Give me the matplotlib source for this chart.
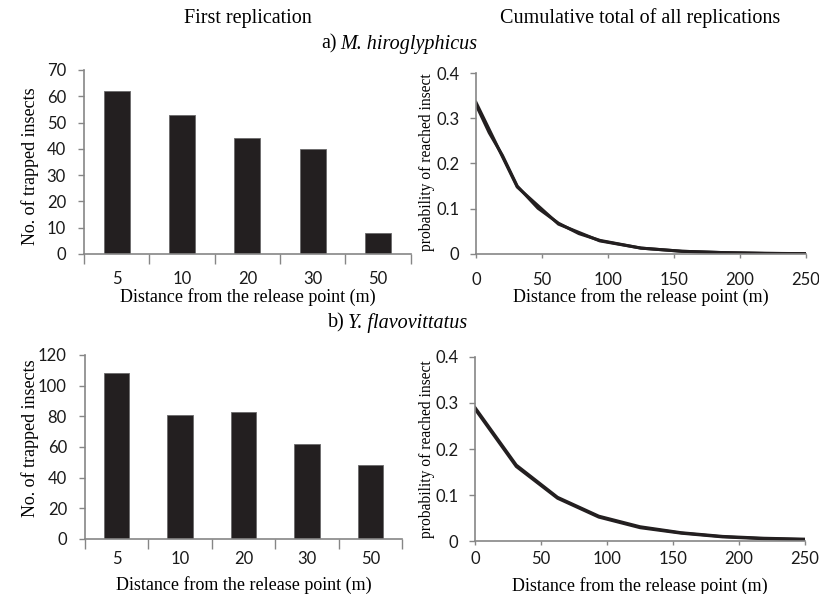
import matplotlib
matplotlib.use("Agg")
import matplotlib.pyplot as plt

# bar charts: first replication
categories = ["5", "10", "20", "30", "50"]
trapped_a = [62, 53, 44, 40, 8]
trapped_b = [108, 81, 83, 62, 48]

# cumulative curves: two nearly overlapping lines per species
dist_a1 = [0, 31.25, 62.5, 93.75, 125, 156.25, 187.5, 218.75, 250]
prob_a1 = [0.335, 0.148, 0.066, 0.029, 0.013, 0.006, 0.003, 0.0013, 0.0006]
dist_a2 = [0, 10, 20, 31.25, 47, 62.5, 78, 94, 125, 156, 188, 219, 250]
prob_a2 = [0.330, 0.268, 0.218, 0.150, 0.101, 0.068, 0.045, 0.030, 0.013, 0.006, 0.003, 0.0015, 0.0007]

dist_b1 = [0, 31.25, 62.5, 93.75, 125, 156.25, 187.5, 218.75, 250]
prob_b1 = [0.290, 0.165, 0.095, 0.054, 0.031, 0.018, 0.010, 0.006, 0.004]
dist_b2 = [0, 31.25, 62.5, 93.75, 125, 156.25, 187.5, 218.75, 250]
prob_b2 = [0.287, 0.162, 0.093, 0.052, 0.029, 0.017, 0.009, 0.005, 0.003]

serif = "Liberation Serif"
tickfont = "Lato"
tsize = 12
spine_col = "#868686"
ink = "#231f20"
xlabel = "Distance from the release point (m)"

fig = plt.figure(figsize=(8.19, 5.94), dpi=100)


def style(ax, ypad):
    for s in ["top", "right"]:
        ax.spines[s].set_visible(False)
    for s in ["left", "bottom"]:
        ax.spines[s].set_color(spine_col)
        ax.spines[s].set_linewidth(1.2)
    ax.tick_params(colors=spine_col, labelcolor="#1a1a1a", labelsize=tsize,
                   direction="out", length=4, width=1)
    ax.tick_params(axis="y", pad=ypad)
    for lab in ax.get_xticklabels() + ax.get_yticklabels():
        lab.set_family(tickfont)


def bar_panel(rect, values, ymax, ystep, xpad, xlab_y, ylab_xy):
    ax = fig.add_axes(rect)
    x = range(len(values))
    ax.bar(x, values, width=0.4, color=ink, edgecolor="#6a6a6a", linewidth=0.6)
    ax.set_xlim(-0.5, len(values) - 0.5)
    ax.set_ylim(0, ymax)
    ax.set_yticks(range(0, ymax + 1, ystep))
    ax.set_xticks([i - 0.5 for i in range(len(values) + 1)])
    ax.set_xticklabels([""] * (len(values) + 1))
    ax.set_xticks(list(x), minor=True)
    ax.set_xticklabels(categories, minor=True)
    style(ax, 9)
    ax.tick_params(axis="x", which="major", length=7)
    ax.tick_params(axis="x", which="minor", length=0, pad=xpad, labelsize=tsize,
                   labelcolor="#1a1a1a")
    for lab in ax.get_xticklabels(minor=True):
        lab.set_family(tickfont)
    ax.set_ylabel("No. of trapped insects", family=serif, fontsize=13, va="center")
    ax.yaxis.set_label_coords(*ylab_xy)
    ax.set_xlabel(xlabel, family=serif, fontsize=13, va="center")
    ax.xaxis.set_label_coords(0.5, xlab_y)
    return ax


def line_panel(rect, series, xpad, xlab_y, ylab_xy):
    ax = fig.add_axes(rect)
    for d, p in series:
        ax.plot(d, p, color=ink, linewidth=2.2)
    ax.set_xlim(0, 250)
    ax.set_ylim(0, 0.4)
    ax.set_xticks([0, 50, 100, 150, 200, 250])
    ax.set_yticks([0, 0.1, 0.2, 0.3, 0.4])
    ax.set_yticklabels(["0", "0.1", "0.2", "0.3", "0.4"])
    style(ax, 8)
    ax.tick_params(axis="x", pad=xpad, length=3)
    ax.set_ylabel("probability of reached insect", family=serif, fontsize=11.2,
                  va="center")
    ax.yaxis.set_label_coords(*ylab_xy)
    ax.set_xlabel(xlabel, family=serif, fontsize=13, va="center")
    ax.xaxis.set_label_coords(0.5, xlab_y)
    return ax


bar_panel([0.1026, 0.5724, 0.399, 0.3098], trapped_a, 70, 10,
          xpad=12, xlab_y=-0.234, ylab_xy=(-0.165, 0.478))
line_panel([0.5812, 0.5724, 0.4029, 0.3047], [(dist_a1, prob_a1), (dist_a2, prob_a2)],
           xpad=10, xlab_y=-0.2376, ylab_xy=(-0.148, 0.508))
bar_panel([0.1038, 0.0926, 0.387, 0.3098], trapped_b, 120, 20,
          xpad=9, xlab_y=-0.25, ylab_xy=(-0.1735, 0.549))
line_panel([0.5800, 0.0892, 0.4030, 0.3098], [(dist_b1, prob_b1), (dist_b2, prob_b2)],
           xpad=4, xlab_y=-0.245, ylab_xy=(-0.145, 0.5))

fig.text(248 / 819, 1 - 18 / 594, "First replication", family=serif, fontsize=14.5,
         ha="center", va="center")
fig.text(640 / 819, 1 - 18 / 594, "Cumulative total of all replications", family=serif,
         fontsize=14.5, ha="center", va="center")
fig.text(337 / 819, 1 - 44 / 594, "a)", family=serif, fontsize=14.5,
         ha="right", va="center")
fig.text(340 / 819, 1 - 44 / 594, "M. hiroglyphicus", family=serif, style="italic",
         fontsize=14.5, ha="left", va="center")
fig.text(345 / 819, 1 - 323 / 594, "b)", family=serif, fontsize=14.5,
         ha="right", va="center")
fig.text(348 / 819, 1 - 323 / 594, "Y. flavovittatus", family=serif, style="italic",
         fontsize=14.5, ha="left", va="center")

fig.savefig("out.png", dpi=100)
